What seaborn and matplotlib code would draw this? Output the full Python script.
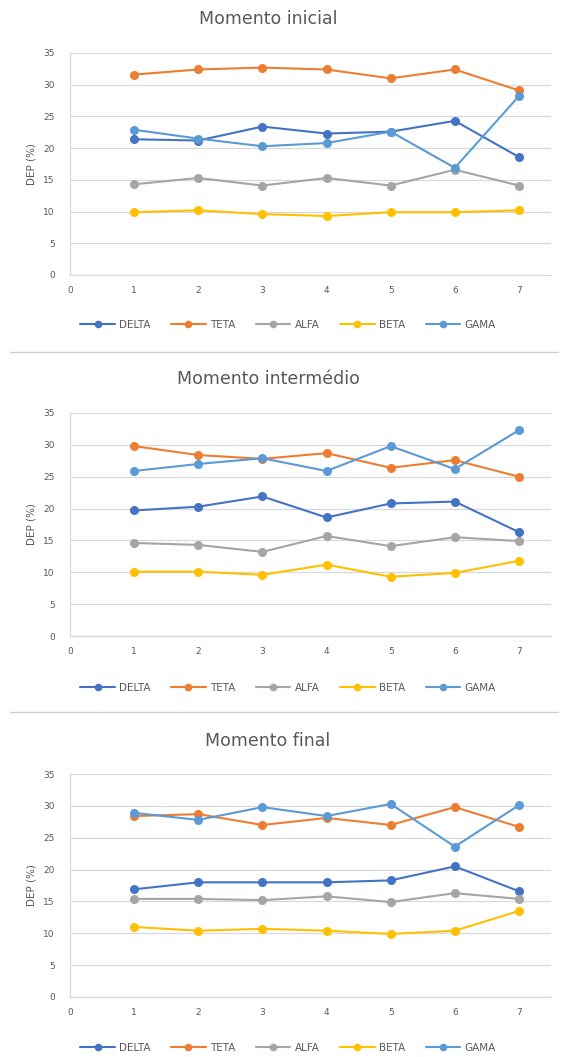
import matplotlib
matplotlib.use("Agg")
import matplotlib.pyplot as plt
from matplotlib.lines import Line2D
import seaborn as sns
import pandas as pd

# ---- data ----
x_points = [1, 2, 3, 4, 5, 6, 7]
series_names = ["DELTA", "TETA", "ALFA", "BETA", "GAMA"]
titles = ["Momento inicial", "Momento intermédio", "Momento final"]

delta_inicial = [21.4, 21.2, 23.4, 22.3, 22.6, 24.3, 18.6]
teta_inicial = [31.6, 32.4, 32.7, 32.4, 31.0, 32.4, 29.1]
alfa_inicial = [14.3, 15.3, 14.1, 15.3, 14.1, 16.6, 14.1]
beta_inicial = [9.9, 10.2, 9.6, 9.3, 9.9, 9.9, 10.2]
gama_inicial = [22.9, 21.5, 20.3, 20.8, 22.6, 16.9, 28.2]

delta_intermedio = [19.7, 20.3, 21.9, 18.6, 20.8, 21.1, 16.3]
teta_intermedio = [29.8, 28.4, 27.8, 28.7, 26.4, 27.6, 25.0]
alfa_intermedio = [14.6, 14.3, 13.2, 15.7, 14.1, 15.5, 14.9]
beta_intermedio = [10.1, 10.1, 9.6, 11.2, 9.3, 9.9, 11.8]
gama_intermedio = [25.9, 27.0, 27.9, 25.9, 29.8, 26.2, 32.3]

delta_final = [16.9, 18.0, 18.0, 18.0, 18.3, 20.5, 16.6]
teta_final = [28.4, 28.7, 27.0, 28.1, 27.0, 29.8, 26.7]
alfa_final = [15.4, 15.4, 15.2, 15.8, 14.9, 16.3, 15.4]
beta_final = [11.0, 10.4, 10.7, 10.4, 9.9, 10.4, 13.5]
gama_final = [28.9, 27.8, 29.8, 28.4, 30.3, 23.6, 30.1]

colors = ["#4472C4", "#ED7D31", "#A5A5A5", "#FFC000", "#5B9BD5"]

panels = [
    [delta_inicial, teta_inicial, alfa_inicial, beta_inicial, gama_inicial],
    [delta_intermedio, teta_intermedio, alfa_intermedio, beta_intermedio, gama_intermedio],
    [delta_final, teta_final, alfa_final, beta_final, gama_final],
]

sns.set_style("white")
plt.rcParams['font.family'] = ['DejaVu Sans']

W, H = 561, 1057
fig = plt.figure(figsize=(W / 100, H / 100), dpi=100)

# pixel layout (top, bottom) of each plot area
areas = [(53, 275), (413, 636), (774, 997)]
title_y = [19, 379, 741]
legend_y = [325, 688, 1048]
sep_y = [352, 712]
left_px, right_px = 70, 551

grid_col = "#D9D9D9"
text_col = "#595959"

palette = dict(zip(series_names, colors))

for i, (vals, (top, bot)) in enumerate(zip(panels, areas)):
    ax = fig.add_axes([left_px / W, 1 - bot / H, (right_px - left_px) / W, (bot - top) / H])
    rows = []
    for name, v in zip(series_names, vals):
        for xp, yv in zip(x_points, v):
            rows.append({"x": xp, "DEP": yv, "serie": name})
    df = pd.DataFrame(rows)
    sns.lineplot(data=df, x="x", y="DEP", hue="serie", palette=palette,
                 marker="o", markersize=6.5, markeredgewidth=0, linewidth=1.5,
                 ax=ax, legend=False, sort=False)
    ax.set_xlim(0, 7.5)
    ax.set_ylim(0, 35)
    ax.set_xticks(range(0, 8))
    ax.set_yticks(range(0, 36, 5))
    ax.yaxis.grid(True, color=grid_col, linewidth=0.9)
    ax.xaxis.grid(False)
    ax.set_axisbelow(True)
    for s in ["top", "right"]:
        ax.spines[s].set_visible(False)
    for s in ["left", "bottom"]:
        ax.spines[s].set_color(grid_col)
        ax.spines[s].set_linewidth(0.9)
    ax.tick_params(axis="y", length=0, labelsize=6.5, colors=text_col, pad=11)
    ax.tick_params(axis="x", length=0, labelsize=6.5, colors=text_col, pad=8)
    ax.set_xlabel("")
    ax.set_ylabel("DEP (%)", fontsize=7.5, color=text_col, labelpad=5)
    fig.text(268 / W, 1 - title_y[i] / H, titles[i], ha="center", va="center",
             fontsize=12.5, color="#595959")
    handles = [Line2D([0], [0], color=c, marker="o", markersize=5.5, markeredgewidth=0,
                      linewidth=1.5) for c in colors]
    leg = fig.legend(handles, series_names, loc="center", ncol=5,
                     bbox_to_anchor=(288 / W, 1 - legend_y[i] / H), frameon=False,
                     fontsize=7.5, handlelength=3.3, columnspacing=2.0, handletextpad=0.4)
    for t in leg.get_texts():
        t.set_color(text_col)

for y in sep_y:
    fig.add_artist(Line2D([10 / W, 558 / W], [1 - y / H, 1 - y / H], color="#D0D0D0",
                          linewidth=1.0, transform=fig.transFigure))

fig.savefig("out.png", dpi=100, facecolor="white")
